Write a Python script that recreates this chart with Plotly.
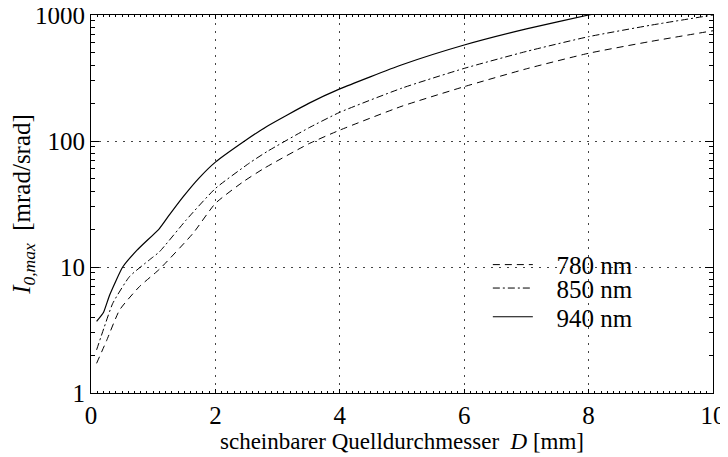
import plotly.graph_objects as go

x_780 = [0.09, 0.25, 0.46, 0.78, 1.1, 1.64, 2.0, 2.45, 2.79, 3.5, 4.0, 5.0, 6.0, 7.0, 8.0, 9.0, 10.0]
y_780 = [1.72, 2.6, 4.56, 7.0, 9.6, 18.5, 32, 47.6, 61, 95, 122, 189, 270, 374, 497, 617, 750]

x_850 = [0.09, 0.21, 0.35, 0.62, 0.94, 1.1, 1.53, 2.0, 2.55, 2.84, 3.5, 4.0, 5.0, 6.0, 7.0, 8.0, 9.0, 10.0]
y_850 = [2.2, 3.3, 5.15, 8.4, 11.4, 13.2, 23.6, 42, 67, 83, 127, 169, 263, 377, 514, 673, 830, 1000]

x_940 = [0.09, 0.2, 0.3, 0.51, 0.74, 1.1, 1.26, 1.48, 1.74, 2.0, 2.47, 2.82, 3.5, 4.0, 5.0, 6.0, 7.0, 8.0, 9.0, 10.0]
y_940 = [3.7, 4.35, 6.0, 10.0, 13.6, 20.2, 25.9, 36, 51, 68, 100, 130, 199, 259, 403, 578, 776, 1000, 1250, 1530]

series = [
    ("780 nm", x_780, y_780, "7px,5px", 1.0),
    ("850 nm", x_850, y_850, "7px,3px,2px,3px", 1.0),
    ("940 nm", x_940, y_940, "solid", 1.2),
]

x_ticks = [0, 2, 4, 6, 8, 10]
y_ticks = [1, 10, 100, 1000]

FONT = "Liberation Serif"
NB = "\u00a0"

legend_ids = ["legend", "legend2", "legend3"]
legend_y = [0.339, 0.277, 0.201]

fig = go.Figure()
for (name, xs, ys, dash, w), lid in zip(series, legend_ids):
    fig.add_trace(go.Scatter(x=xs, y=ys, mode="lines", name=NB * 3 + name,
                             legend=lid,
                             line=dict(color="black", width=w, dash=dash,
                                       shape="spline", smoothing=0.5)))

legend_style = dict(x=0.638, xanchor="left", yanchor="middle",
                    bgcolor="rgba(0,0,0,0)", borderwidth=0,
                    font=dict(family=FONT, size=25), itemwidth=40)

layout_legends = {}
for lid, ly in zip(legend_ids, legend_y):
    layout_legends[lid] = dict(legend_style, y=ly)

fig.update_layout(
    width=720, height=449,
    margin=dict(l=83, r=15, t=7, b=64),
    paper_bgcolor="white", plot_bgcolor="white",
    font=dict(family=FONT, color="black", size=22),
    showlegend=True,
    **layout_legends,
    xaxis=dict(range=[0, 10], tickvals=x_ticks, ticktext=[str(v) for v in x_ticks],
               automargin=False, ticklabeloverflow="allow",
               showline=True, linecolor="black", linewidth=1, mirror="allticks",
               ticks="inside", ticklen=4, tickcolor="black",
               showgrid=True, gridcolor="#444", griddash="2px,6px", gridwidth=1,
               zeroline=False,
               minor=dict(dtick=0.1, ticks="inside", ticklen=2, tickcolor="black", showgrid=False),
               tickfont=dict(family=FONT, size=25),
               title=dict(text="scheinbarer Quelldurchmesser  <i>D</i> [mm]",
                          font=dict(family=FONT, size=23), standoff=0)),
    yaxis=dict(type="log", range=[0, 3], tickvals=y_ticks, ticktext=[str(v) for v in y_ticks],
               automargin=False, ticklabeloverflow="allow",
               showline=True, linecolor="black", linewidth=1, mirror="allticks",
               ticks="inside", ticklen=8, tickcolor="black",
               showgrid=True, gridcolor="#444", griddash="2px,6px", gridwidth=1,
               zeroline=False,
               minor=dict(dtick="D1", ticks="inside", ticklen=4, tickcolor="black", showgrid=False),
               tickfont=dict(family=FONT, size=25),
               title=dict(text="<i>I</i><sub><i>0,max</i></sub>  [mrad/srad]",
                          font=dict(family=FONT, size=25), standoff=0)),
)

fig.write_html("out.html")
